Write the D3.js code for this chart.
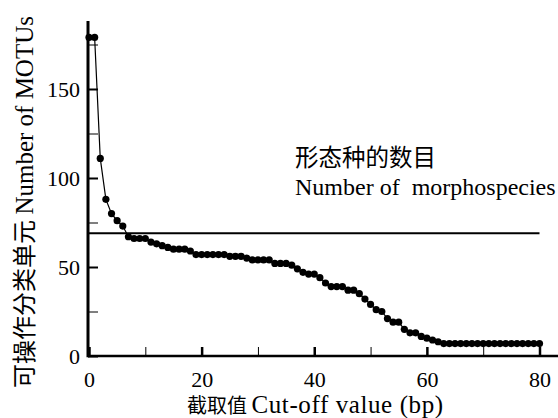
<!DOCTYPE html>
<meta charset="utf-8">
<style>
    body { margin: 0; background: #fff; }
    text { font-family: "Liberation Serif", "Times New Roman", serif; fill: #000; }
    .cjk { font-family: "Noto Sans CJK SC", sans-serif; }
    .axis path { display: none; }
    .axis line { stroke: #000; }
</style>
<svg id="chart" width="558" height="418"></svg>
<script src="https://d3js.org/d3.v7.min.js"></script>
<script>

    // cut-off value (bp) and number of MOTUs
    var cutoff = d3.range(0, 81);
    var motus = [179, 179, 111, 88, 80, 76, 73, 67, 66, 66,
                 66, 64, 63, 62, 61, 60, 60, 60, 59, 57,
                 57, 57, 57, 57, 57, 56, 56, 56, 55, 54,
                 54, 54, 54, 52, 52, 52, 51, 49, 47, 46,
                 46, 44, 41, 39, 39, 39, 37, 37, 35, 32,
                 29, 26, 25, 21, 19, 19, 15, 13, 13, 11,
                 10, 9, 8, 7, 7, 7, 7, 7, 7, 7,
                 7, 7, 7, 7, 7, 7, 7, 7, 7, 7, 7];
    var morphospecies = 69;

    var xMajor = [0, 20, 40, 60, 80];
    var xMinor = [10, 30, 50, 70];
    var yMajor = [0, 50, 100, 150];
    var yMinor = [25, 75, 125, 175];

    var svg = d3.select("#chart");

    var x = d3.scaleLinear().domain([0, 80]).range([89, 539.5]);
    var y = d3.scaleLinear().domain([0, 150]).range([356, 89]);

    // axes lines
    svg.append("line")
        .attr("x1", 88).attr("x2", 558)
        .attr("y1", y(0)).attr("y2", y(0))
        .attr("stroke", "#000").attr("stroke-width", 2.6);
    svg.append("line")
        .attr("x1", 88).attr("x2", 88)
        .attr("y1", y(0) + 1.3).attr("y2", 21)
        .attr("stroke", "#000").attr("stroke-width", 3);

    // y ticks, drawn inward
    svg.append("g").attr("class", "axis")
        .attr("transform", "translate(88,0)")
        .call(d3.axisLeft(y).tickValues(yMajor).tickSize(-10).tickPadding(8))
        .call(g => g.selectAll("line").attr("stroke-width", 2))
        .call(g => g.selectAll("text").style("font-size", "22px"));
    svg.append("g").attr("class", "axis")
        .attr("transform", "translate(88,0)")
        .call(d3.axisLeft(y).tickValues(yMinor).tickSize(-10).tickFormat(""))
        .call(g => g.selectAll("line").attr("stroke-width", 1));

    // x ticks, drawn inward
    svg.append("g").attr("class", "axis")
        .attr("transform", "translate(0," + y(0) + ")")
        .call(d3.axisBottom(x).tickValues(xMajor).tickSize(-9).tickPadding(15))
        .call(g => g.selectAll("line").attr("stroke-width", 2.5))
        .call(g => g.selectAll("text").style("font-size", "22px"));
    svg.append("g").attr("class", "axis")
        .attr("transform", "translate(0," + y(0) + ")")
        .call(d3.axisBottom(x).tickValues(xMinor).tickSize(-9).tickFormat(""))
        .call(g => g.selectAll("line").attr("stroke-width", 1));

    // morphospecies reference line
    svg.append("line")
        .attr("x1", 88).attr("x2", x(80))
        .attr("y1", y(morphospecies)).attr("y2", y(morphospecies))
        .attr("stroke", "#000").attr("stroke-width", 2);

    var pts = cutoff.map(function(d, i) { return [d, motus[i]]; });

    svg.append("path")
        .datum(pts)
        .attr("fill", "none")
        .attr("stroke", "#000")
        .attr("stroke-width", 1.2)
        .attr("d", d3.line().x(d => x(d[0])).y(d => y(d[1])));

    svg.append("g").selectAll("circle")
        .data(pts)
        .enter().append("circle")
        .attr("cx", d => x(d[0]))
        .attr("cy", d => y(d[1]))
        .attr("r", 3.6)
        .attr("fill", "#000");

    // legend text
    svg.append("text").attr("class", "cjk")
        .attr("x", 295).attr("y", 166)
        .style("font-size", "23.5px")
        .text("形态种的数目");
    svg.append("text")
        .attr("x", 295).attr("y", 195)
        .style("font-size", "24px")
        .style("white-space", "pre")
        .text("Number of  morphospecies");

    // axis titles
    var xt = svg.append("text")
        .attr("x", 187).attr("y", 413)
        .style("font-size", "25px");
    xt.append("tspan").attr("class", "cjk").style("font-size", "20px").text("截取值 ");
    xt.append("tspan").style("letter-spacing", "0.6px").text("Cut-off value (bp)");

    var yt = svg.append("text")
        .attr("transform", "translate(33,388) rotate(-90)")
        .attr("x", 0).attr("y", 0)
        .style("font-size", "25px");
    yt.append("tspan").attr("class", "cjk").style("font-size", "24px").text("可操作分类单元 ");
    yt.append("tspan").text("Number of MOTUs");

</script>
